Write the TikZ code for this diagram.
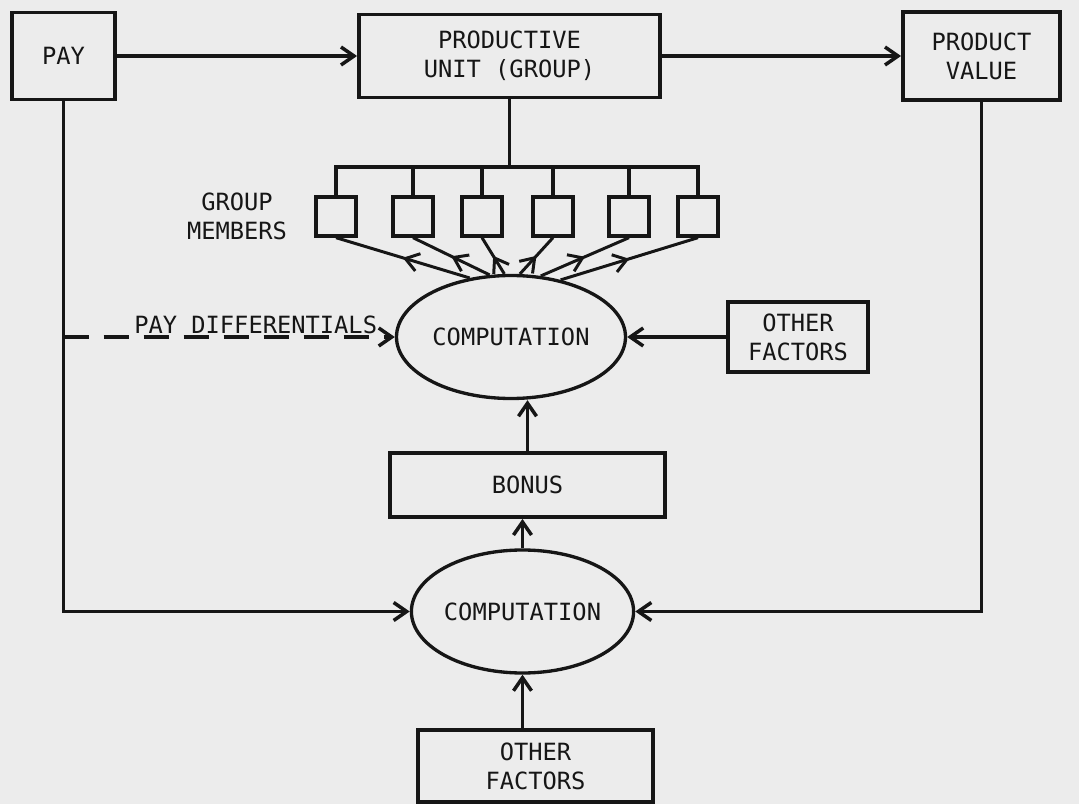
\documentclass[tikz,border=0pt]{standalone}
\usepackage{fontspec}
\setmonofont{DejaVu Sans Mono}
\usetikzlibrary{shapes.geometric, arrows.meta, positioning, decorations.markings}
\definecolor{paper}{RGB}{236,236,236}
\definecolor{ink}{RGB}{22,22,22}
\tikzstyle{block} = [rectangle, draw=ink, line width=2.2pt, align=center, inner sep=2pt]
\tikzstyle{compute} = [ellipse, draw=ink, line width=1.9pt, inner sep=0pt, minimum width=4.58cm, minimum height=2.46cm]
\tikzstyle{member} = [rectangle, draw=ink, line width=1.9pt, minimum width=0.8cm, minimum height=0.78cm]
\tikzstyle{wire} = [draw=ink, line width=2pt]
\tikzstyle{arrow} = [wire, -{Straight Barb[length=2.6mm, width=3.6mm]}]
\tikzstyle{midarrow} = [wire, line width=1.7pt, decoration={markings, mark=at position 0.5 with {\arrow{Straight Barb[length=2.6mm, width=3.6mm]}}}, postaction={decorate}]
\begin{document}
\begin{tikzpicture}[node distance=2cm, every node/.style={text=ink, font=\ttfamily\fontsize{13.5}{16.5}\selectfont}]

\fill [paper] (0,0) rectangle (21.58,-16.08);

\node (pay) [block, minimum width=2.06cm, minimum height=1.74cm] at (1.27,-1.12) {PAY};
\node (unit) [block, node distance=8.92cm, right of=pay, minimum width=6.02cm, minimum height=1.66cm] {PRODUCTIVE\\UNIT (GROUP)};
\node (value) [block, node distance=9.44cm, right of=unit, minimum width=3.14cm, minimum height=1.76cm] {PRODUCT\\VALUE};

\foreach \i/\dx in {1/-3.47, 2/-1.93, 3/-0.55, 4/0.87, 5/2.39, 6/3.77}
  \node (m\i) [member, node distance=3.21cm, below of=unit, xshift=\dx cm] {};
\node (groupmembers) [left=0.54cm of m1, align=center, inner sep=0pt] {GROUP\\MEMBERS};

\node (comp1) [compute, node distance=5.62cm, below of=unit, xshift=0.03cm] {COMPUTATION};
\node (other1) [block, node distance=5.74cm, right of=comp1, minimum width=2.8cm, minimum height=1.4cm] {OTHER\\FACTORS};
\node (bonus) [block, node distance=2.96cm, below of=comp1, xshift=0.33cm, minimum width=5.5cm, minimum height=1.28cm] {BONUS};
\node (comp2) [compute, node distance=2.53cm, below of=bonus, xshift=-0.1cm, minimum width=4.38cm] {COMPUTATION};
\node (other2) [block, node distance=3.09cm, below of=comp2, xshift=0.26cm, minimum width=4.7cm, minimum height=1.44cm] {OTHER\\FACTORS};

\draw [arrow] (pay) -- (unit);
\draw [arrow] (unit) -- (value);

% group members hang off the unit
\draw [wire] (unit.south) -- ++(0,-1.35) coordinate (bus);
\draw [wire] (m1.north) |- (bus) -| (m6.north);
\foreach \i in {2,...,5}
  \draw [wire] (m\i.north) -- (m\i.north |- bus);
\foreach \i/\a in {1/125, 2/109, 3/96, 4/82, 5/64, 6/49}
  \draw [midarrow] (comp1.\a) -- (m\i.south);

\draw [arrow, dash pattern=on 0.5cm off 0.3cm] (pay.south |- comp1.west) -- node[above, pos=0.58, inner sep=1pt] {PAY DIFFERENTIALS} (comp1.west);
\draw [arrow] (other1) -- (comp1);
\draw [arrow] (bonus.north) -- (bonus.north |- comp1.south);
\draw [arrow] (comp2.north) -- (comp2.north |- bonus.south);
\draw [arrow] (comp2.south |- other2.north) -- (comp2.south);

\draw [arrow] (pay.south) |- (comp2.west);
\draw [arrow] (value.south) |- (comp2.east);

\end{tikzpicture}
\end{document}
